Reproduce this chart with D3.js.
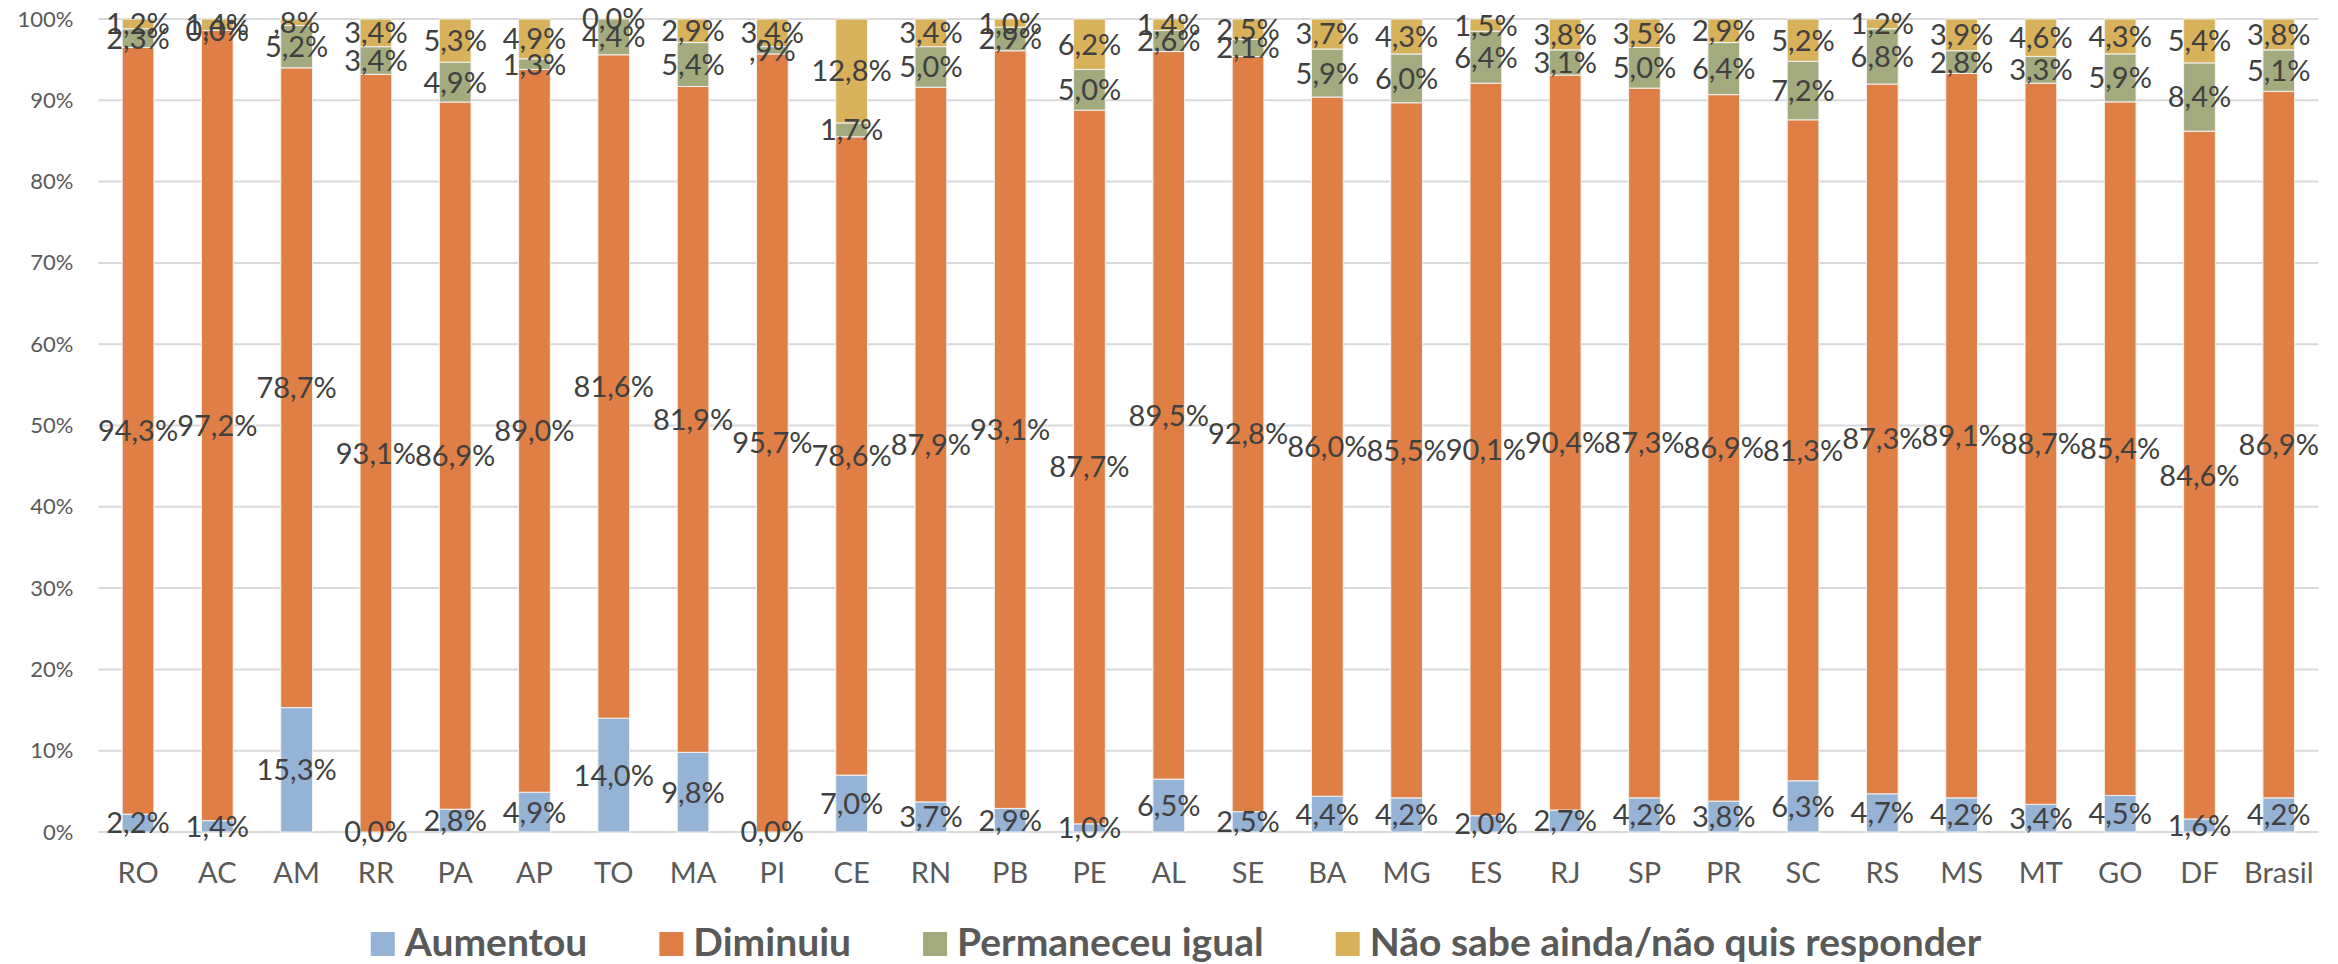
<!DOCTYPE html>
<html>
<head>
<meta charset="utf-8">
<script src="https://cdn.jsdelivr.net/npm/d3@7"></script>
<style>
  html, body { margin: 0; padding: 0; background: #fff; }
  svg { display: block; }
  text { font-family: Lato, "Open Sans", sans-serif; }
</style>
</head>
<body>
<svg id="chart" width="2338" height="964"></svg>
<script>
const categories = ["RO","AC","AM","RR","PA","AP","TO","MA","PI","CE","RN","PB","PE","AL","SE","BA","MG","ES","RJ","SP","PR","SC","RS","MS","MT","GO","DF","Brasil"];
const aumentou    = [2.2,1.4,15.3,0.0,2.8,4.9,14.0,9.8,0.0,7.0,3.7,2.9,1.0,6.5,2.5,4.4,4.2,2.0,2.7,4.2,3.8,6.3,4.7,4.2,3.4,4.5,1.6,4.2];
const diminuiu    = [94.3,97.2,78.7,93.1,86.9,89.0,81.6,81.9,95.7,78.6,87.9,93.1,87.7,89.5,92.8,86.0,85.5,90.1,90.4,87.3,86.9,81.3,87.3,89.1,88.7,85.4,84.6,86.9];
const permaneceu  = [2.3,0.0,5.2,3.4,4.9,1.3,4.4,5.4,0.9,1.7,5.0,2.9,5.0,2.6,2.1,5.9,6.0,6.4,3.1,5.0,6.4,7.2,6.8,2.8,3.3,5.9,8.4,5.1];
const naoSabe     = [1.2,1.4,0.8,3.4,5.3,4.9,0.0,2.9,3.4,12.8,3.4,1.0,6.2,1.4,2.5,3.7,4.3,1.5,3.8,3.5,2.9,5.2,1.2,3.9,4.6,4.3,5.4,3.8];
const seriesNames = ["Aumentou","Diminuiu","Permaneceu igual","Não sabe ainda/não quis responder"];
const seriesColors = ["#95b3d4","#df7f46","#a3aa7e","#d8b15b"];
const yTicks = [0,0.1,0.2,0.3,0.4,0.5,0.6,0.7,0.8,0.9,1.0];

const seriesValues = [aumentou, diminuiu, permaneceu, naoSabe];
const keys = seriesNames;
const table = categories.map((c, i) => {
  const row = { cat: c };
  keys.forEach((k, j) => row[k] = seriesValues[j][i]);
  return row;
});

const svg = d3.select("#chart");
const plot = { left: 98.4, right: 2318.4, top: 19, bottom: 832 };

const x = d3.scaleBand().domain(categories).range([plot.left, plot.right])
  .paddingInner(0.6).paddingOuter(0.3);
const y = d3.scaleLinear().domain([0, 1]).range([plot.bottom, plot.top]);

// gridlines
svg.append("g").selectAll("line").data(yTicks).join("line")
  .attr("x1", plot.left).attr("x2", plot.right)
  .attr("y1", d => y(d)).attr("y2", d => y(d))
  .attr("stroke", "#d9d9d9").attr("stroke-width", 2);

// y axis labels
const yAxis = d3.axisLeft(y).tickValues(yTicks).tickFormat(d3.format(".0%")).tickSize(0).tickPadding(25);
const gy = svg.append("g").attr("transform", `translate(${plot.left},0)`).call(yAxis);
gy.select(".domain").remove();
gy.selectAll("text").attr("font-family", "Lato").attr("font-size", 22).attr("fill", "#595959");

// x axis labels
const xAxis = d3.axisBottom(x).tickSize(0).tickPadding(30);
const gx = svg.append("g").attr("transform", `translate(0,${plot.bottom})`).call(xAxis);
gx.select(".domain").remove();
gx.selectAll("text").attr("font-family", "Lato").attr("font-size", 29).attr("fill", "#595959");

// stacked bars
const stack = d3.stack().keys(keys).offset(d3.stackOffsetExpand);
const stacked = stack(table);

const groups = svg.append("g").selectAll("g").data(stacked).join("g")
  .attr("fill", (d, i) => seriesColors[i]);
groups.selectAll("rect").data(d => d).join("rect")
  .attr("x", d => x(d.data.cat))
  .attr("width", x.bandwidth())
  .attr("y", d => y(d[1]))
  .attr("height", d => Math.max(0, y(d[0]) - y(d[1])))
  .attr("stroke", "#f2f2f2").attr("stroke-width", 1);

// labels
const fmt = v => {
  const s = d3.format(".1f")(v).replace(".", ",");
  return (v > 0 && v < 1 ? s.replace(/^0/, "") : s) + "%";
};
const lg = svg.append("g");
stacked.forEach((ser) => {
  lg.selectAll(null).data(ser).join("text")
    .attr("x", d => x(d.data.cat) + x.bandwidth() / 2)
    .attr("y", d => y((d[0] + d[1]) / 2))
    .attr("dy", "0.36em")
    .attr("text-anchor", "middle")
    .attr("font-size", 29)
    .attr("fill", "#404040")
    .text(d => fmt(d.data[ser.key]));
});

// legend
const legend = svg.append("g");
const items = legend.selectAll("g").data(seriesNames).join("g");
items.append("rect").attr("width", 24).attr("height", 24).attr("y", -24)
  .attr("fill", (d, i) => seriesColors[i]);
items.append("text").attr("x", 34).attr("y", 0)
  .attr("font-size", 39).attr("font-weight", "bold").attr("fill", "#595959")
  .text(d => d);
const gap = 72;
const widths = [];
items.each(function () {
  const w = 34 + d3.select(this).select("text").node().getComputedTextLength();
  widths.push(w);
});
const total = d3.sum(widths) + gap * (widths.length - 1);
let start = 1176 - total / 2;
items.attr("transform", (d, i) => {
  const t = `translate(${start},956)`;
  start += widths[i] + gap;
  return t;
});
</script>
</body>
</html>
